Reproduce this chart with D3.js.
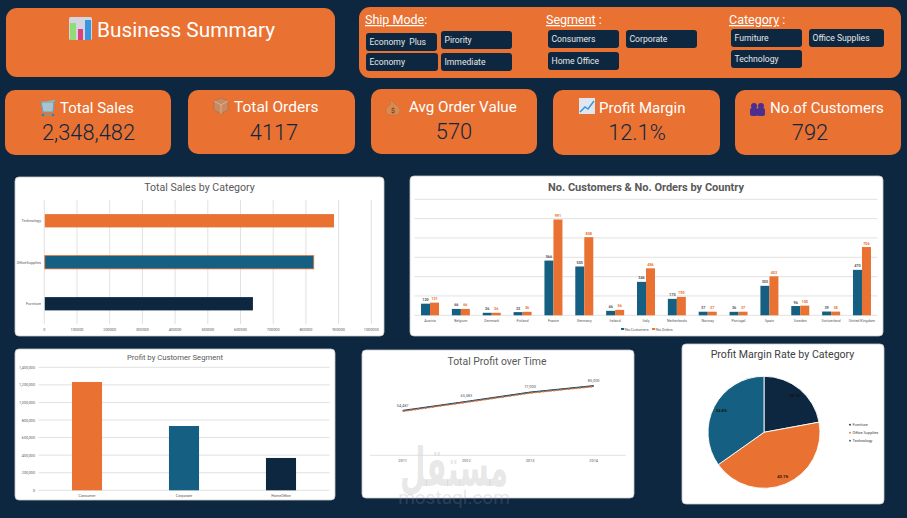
<!DOCTYPE html>
<html><head><meta charset="utf-8">
<script src="https://cdn.jsdelivr.net/npm/d3@7/dist/d3.min.js"></script>
<style>html,body{margin:0;padding:0;background:#0d2740;overflow:hidden}svg{display:block}text{font-family:Roboto,sans-serif}</style>
</head><body><svg id="c" width="907" height="518"></svg>
<script>
// ---- data ----
const kpiTitles=["Total Sales","Total Orders","Avg Order Value","Profit Margin","No.of Customers"];
const kpiValues=["2,348,482","4117","570","12.1%","792"];
const shipModes=["Economy  Plus","Pirority","Economy","Immediate"];
const segmentsSlicer=["Consumers","Corporate","Home Office"];
const categorySlicer=["Furniture","Office Supplies","Technology"];

const salesCategories=["Technology","OfficeSupplies","Furniture"];
const salesValues=[886000,824000,638000];
const salesTicks=[0,100000,200000,300000,400000,500000,600000,700000,800000,900000,1000000];

const countries=["Austria","Belgium","Denmark","Finland","France","Germany","Ireland","Italy","Netherlands","Norway","Portugal","Spain","Sweden","Switzerland","United Kingdom"];
const noCustomers=[120,66,26,33,566,505,46,346,170,37,36,305,96,39,470];
const noOrders=[131,66,26,36,991,808,56,486,190,37,37,403,100,38,706];
const countryTicks=[0,200,400,600,800,1000,1200];

const segments=["Consumer","Corporate","HomeOffice"];
const segmentProfit=[1233000,732000,368000];
const segmentTicks=[0,200000,400000,600000,800000,1000000,1200000,1400000];

const years=["2011","2012","2013","2014"];
const yearProfit=[54487,65583,77000,85000];

const pieCategories=["Furniture","Office Supplies","Technology"];
const pieMargins=[22.1,43.1,34.8];

// ---- palette ----
const navy="#0d2740",orange="#e97132",teal="#156082",grid="#d9d9d9",muted="#595959";
const svg=d3.select("#c");
const box=(x,y,w,h,r,fill,stroke)=>svg.append("rect").attr("x",x).attr("y",y).attr("width",w).attr("height",h).attr("rx",r).attr("fill",fill).attr("stroke",stroke||"none");
const txt=(g,x,y,s,size,fill,anchor)=>g.append("text").attr("x",x).attr("y",y).text(s).attr("font-size",size).attr("fill",fill).attr("text-anchor",anchor||"start").style("white-space","pre");

svg.append("rect").attr("width",907).attr("height",518).attr("fill",navy);

// ---- header ----
box(6,8,329,69,11,orange);
txt(svg,97,37,"Business Summary",20.8,"#fff");
// chart icon
const ic=svg.append("g");
ic.append("rect").attr("x",69).attr("y",17).attr("width",23).attr("height",23).attr("rx",1.5).attr("fill","#d5d5e2");
ic.append("rect").attr("x",70).attr("y",23).attr("width",6).attr("height",17).attr("fill","#8fdc78");
ic.append("rect").attr("x",78).attr("y",29).attr("width",5).attr("height",11).attr("fill","#e0407a");
ic.append("rect").attr("x",85).attr("y",20).attr("width",6).attr("height",20).attr("fill","#3a96dc");

box(359,7,542,71,11,orange);
[[365,"Ship Mode",":"],[546,"Segment"," :"],[729,"Category"," :"]].forEach(([x,t,s])=>{
  const e=svg.append("text").attr("x",x).attr("y",24).attr("font-size",12.5).attr("fill","#fff");
  e.append("tspan").attr("text-decoration","underline").text(t);
  e.append("tspan").text(s);
});
const slicerPos=[[366,33,71],[441,31,71],[366,53,72],[441,53,71]];
const slicer2=[[548,30,71],[626,30,71],[548,52,71]];
const slicer3=[[731,29,71],[809,29,75],[731,50,71]];
const btn=(labels,pos)=>labels.forEach((l,i)=>{
  const [x,y,w]=pos[i];
  box(x,y,w,18,3,navy);
  txt(svg,x+3.5,y+11.5,l,8.6,"#e8e8e8");
});
btn(shipModes,slicerPos);btn(segmentsSlicer,slicer2);btn(categorySlicer,slicer3);

// ---- KPI cards ----
const kpiBox=[[5,90,166,65],[188,90,167,64],[371,89,166,65],[553,90,167,65],[735,90,166,65]];
const kpiTitleX=[60,234,409,599,770];
const kpiTitleY=[113,112,112,113,113];
const kpiTitleSize=[15,15.5,15.2,15,15];
const kpiValueX=[88.5,274,454,637,810];
kpiTitles.forEach((t,i)=>{
  const [x,y,w,h]=kpiBox[i];
  box(x,y,w,h,10,orange);
  txt(svg,kpiTitleX[i],kpiTitleY[i],t,kpiTitleSize[i],"#fff");
  txt(svg,kpiValueX[i],y+49.5,kpiValues[i],21.8,navy,"middle").attr("font-weight",300);
});
// small KPI icons
const ki=svg.append("g");
// cart
ki.append("path").attr("d","M40 102h14l2-2M41 102l2 10h10l1-10M43 115h10").attr("fill","#a9c4cf").attr("stroke","#6f9fb2").attr("stroke-width",1.2);
ki.append("circle").attr("cx",43).attr("cy",115).attr("r",1.3).attr("fill","#3a7fa8");
ki.append("circle").attr("cx",53).attr("cy",115).attr("r",1.3).attr("fill","#3a7fa8");
// box
ki.append("path").attr("d","M214 101l7-3 7 3v9l-7 4-7-4z").attr("fill","#c98a62").attr("stroke","#a8704e").attr("stroke-width",.7);
ki.append("path").attr("d","M214 101l7 4 7-4M221 105v9").attr("fill","none").attr("stroke","#e3b899").attr("stroke-width",.8);
// money bag
ki.append("path").attr("d","M392 101l3 3c4 2 5 5 5 7 0 3-3 4-5 4h-4c-3 0-5-1-5-4 0-2 1-5 5-7l-2-3z").attr("fill","#d98a50").attr("stroke","#b86c3a").attr("stroke-width",.5);
ki.append("text").attr("x",393).attr("y",113).attr("font-size",7).attr("text-anchor","middle").attr("fill","#5b2d10").text("$");
// trend
ki.append("rect").attr("x",579).attr("y",98).attr("width",16).attr("height",16).attr("fill","#dfe6f0");
ki.append("path").attr("d","M580 112l5-5 3 2 6-8").attr("fill","none").attr("stroke","#3a96dc").attr("stroke-width",1.5);
// people
[[754,106],[761,106]].forEach(([x,y])=>{
  ki.append("circle").attr("cx",x).attr("cy",y).attr("r",3).attr("fill","#4a2f8f");
  ki.append("rect").attr("x",x-4).attr("y",y+2).attr("width",8).attr("height",8).attr("rx",2).attr("fill","#4a2f8f");
});

// ---- chart cards ----
const card=(x,y,w,h,r)=>box(x,y,w,h,r||4,"#fff","#c9c9c9").attr("stroke-width",.8);
const title=(x,y,s,size,fill,weight)=>txt(svg,x,y,s,size,fill||muted,"middle").attr("font-weight",weight||400);
const fmt=d3.format(",");

// Total Sales by Category
card(15,177,369,159);
title(199.5,191,"Total Sales by Category",10.6);
{
  const x=d3.scaleLinear().domain([0,1000000]).range([44.3,371.3]);
  const y=d3.scaleBand().domain(salesCategories).range([200,324.5]).paddingInner(.68).paddingOuter(.34);
  const g=svg.append("g");
  g.selectAll(null).data(salesTicks).join("line").attr("x1",x).attr("x2",x).attr("y1",200).attr("y2",324).attr("stroke",grid).attr("stroke-width",.8);
  const colors=[orange,teal,navy];
  g.selectAll(null).data(salesValues).join("rect").attr("x",x(0)+.5).attr("y",(d,i)=>y(salesCategories[i])).attr("width",d=>x(d)-x(0)-.5).attr("height",y.bandwidth()).attr("fill",(d,i)=>colors[i]).attr("stroke",(d,i)=>i==1?orange:"none").attr("stroke-width",.8);
  g.selectAll(null).data(salesTicks).join("text").attr("x",x).attr("y",331).attr("text-anchor","middle").attr("font-size",3.8).attr("fill",muted).text(d=>d);
  g.selectAll(null).data(salesCategories).join("text").attr("x",41).attr("y",d=>y(d)+y.bandwidth()/2+1.5).attr("text-anchor","end").attr("font-size",3.8).attr("fill",muted).text(d=>d);
}

// No. Customers & No. Orders by Country
card(410,176,473,160);
title(646,191,"No. Customers & No. Orders by Country",11,muted,700);
{
  const x=d3.scaleBand().domain(countries).range([414.6,877.4]);
  const y=d3.scaleLinear().domain([0,1200]).range([315.3,199.3]);
  const g=svg.append("g");
  g.selectAll(null).data(countryTicks).join("line").attr("x1",414.6).attr("x2",877.4).attr("y1",y).attr("y2",y).attr("stroke",grid).attr("stroke-width",.8);
  const bw=9;
  const series=[[noCustomers,teal,-bw,muted],[noOrders,orange,0,orange]];
  series.forEach(([vals,c,off,lc])=>{
    g.selectAll(null).data(vals).join("rect").attr("x",(d,i)=>x(countries[i])+x.bandwidth()/2+off).attr("y",d=>y(d)).attr("width",bw).attr("height",d=>y(0)-y(d)).attr("fill",c);
    g.selectAll(null).data(vals).join("text").attr("x",(d,i)=>x(countries[i])+x.bandwidth()/2+off+bw/2).attr("y",d=>y(d)-2.5).attr("text-anchor","middle").attr("font-size",3.8).attr("font-weight",700).attr("fill",lc).text(d=>d);
  });
  g.selectAll(null).data(countries).join("text").attr("x",d=>x(d)+x.bandwidth()/2).attr("y",322).attr("text-anchor","middle").attr("font-size",3.7).attr("fill",muted).text(d=>d);
  g.append("rect").attr("x",621).attr("y",328).attr("width",3.2).attr("height",2).attr("fill",teal);
  txt(g,625,330.5,"No.Customers",3.7,muted);
  g.append("rect").attr("x",652).attr("y",328).attr("width",3.2).attr("height",2).attr("fill",orange);
  txt(g,656,330.5,"No.Orders",3.7,muted);
}

// Profit by Customer Segment
card(15,349,320,151);
title(175,360,"Profit by Customer Segment",7.7);
{
  const x=d3.scaleBand().domain(segments).range([38.5,329.5]).paddingInner(.69).paddingOuter(.345);
  const y=d3.scaleLinear().domain([0,1400000]).range([490.3,367.3]);
  const g=svg.append("g");
  g.selectAll(null).data(segmentTicks).join("line").attr("x1",38.5).attr("x2",329.5).attr("y1",y).attr("y2",y).attr("stroke",grid).attr("stroke-width",.8);
  const colors=[orange,teal,navy];
  g.selectAll(null).data(segmentProfit).join("rect").attr("x",(d,i)=>x(segments[i])).attr("y",d=>y(d)).attr("width",x.bandwidth()).attr("height",d=>y(0)-y(d)).attr("fill",(d,i)=>colors[i]);
  g.selectAll(null).data(segmentTicks).join("text").attr("x",35).attr("y",d=>y(d)+1.5).attr("text-anchor","end").attr("font-size",3.7).attr("fill",muted).text(d=>fmt(d));
  g.selectAll(null).data(segments).join("text").attr("x",d=>x(d)+x.bandwidth()/2).attr("y",497).attr("text-anchor","middle").attr("font-size",3.7).attr("fill",muted).text(d=>d);
}

// ---- watermark (under the line chart's marks) ----
function watermark(){
  const wm="rgba(150,150,150,.24)";
  svg.append("text").attr("transform","translate(454,486) scale(.74,1.35)").attr("text-anchor","middle").attr("font-size",40).attr("font-weight",700).attr("fill",wm).style("font-family","'DejaVu Sans'").attr("direction","rtl").text("مستقل");
  svg.append("text").attr("x",454).attr("y",504).attr("text-anchor","middle").attr("font-size",19).attr("fill",wm).style("font-family","Roboto").text("mostaql.com");
}

// Total Profit over Time
card(362,350,272,148);
title(497,365,"Total Profit over Time",10.4);
watermark();
{
  const x=d3.scalePoint().domain(years).range([402.7,593.7]);
  const y=d3.scaleLinear().domain([0,100000]).range([455.3,374]);
  const line=d3.line().x((d,i)=>x(years[i])).y(d=>y(d));
  const g=svg.append("g");
  g.append("line").attr("x1",370).attr("x2",625.7).attr("y1",y(0)).attr("y2",y(0)).attr("stroke",grid).attr("stroke-width",.8);
  g.append("path").datum(yearProfit).attr("d",line).attr("fill","none").attr("stroke",navy).attr("stroke-width",.9).attr("transform","translate(0,-.6)");
  g.append("path").datum(yearProfit).attr("d",line).attr("fill","none").attr("stroke",teal).attr("stroke-width",1.2);
  g.append("path").datum(yearProfit).attr("d",line).attr("fill","none").attr("stroke",orange).attr("stroke-width",1.3).attr("stroke-dasharray","2.5 1.2").attr("transform","translate(0,.4)");
  g.selectAll(null).data(yearProfit).join("text").attr("x",(d,i)=>x(years[i])).attr("y",d=>y(d)-4.5).attr("text-anchor","middle").attr("font-size",3.9).attr("fill",muted).text(d=>fmt(d));
  g.selectAll(null).data(years).join("text").attr("x",d=>x(d)).attr("y",461.5).attr("text-anchor","middle").attr("font-size",3.9).attr("fill",muted).text(d=>d);
}

// Profit Margin Rate by Category
card(682,344,202,160);
title(782.5,358,"Profit Margin Rate by Category",10.6,"#404040");
{
  const pie=d3.pie().sort(null).value(d=>d);
  const arc=d3.arc().innerRadius(0).outerRadius(56);
  const colors=[navy,orange,teal];
  const g=svg.append("g").attr("transform","translate(764,432.3)");
  g.selectAll(null).data(pie(pieMargins)).join("path").attr("d",arc).attr("fill",(d,i)=>colors[i]).attr("stroke","#fff").attr("stroke-width",.9);
  const lab=d3.arc().innerRadius(48).outerRadius(48);
  g.selectAll(null).data(pie(pieMargins)).join("text").attr("transform",d=>`translate(${lab.centroid(d)})`).attr("text-anchor","middle").attr("dy",1.5).attr("font-size",4).attr("font-weight",700).attr("fill","#111").text(d=>d.data.toFixed(1)+"%");
  const lg=svg.append("g");
  pieCategories.forEach((c,i)=>{
    lg.append("circle").attr("cx",850).attr("cy",424.7+i*8).attr("r",.9).attr("fill",colors[i]);
    txt(lg,852.5,426.2+i*8,c,3.9,"#404040");
  });
}
</script></body></html>
